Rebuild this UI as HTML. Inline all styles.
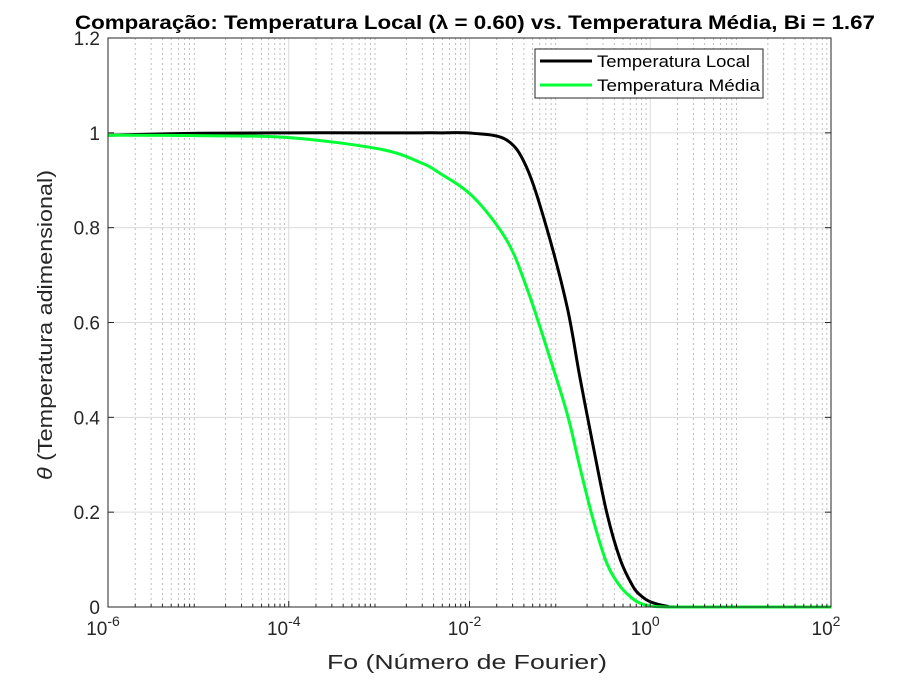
<!DOCTYPE html>
<html><head><meta charset="utf-8"><style>
body{margin:0;background:#fff}
svg{display:block;font-family:"Liberation Sans",Arial,sans-serif}
</style></head><body>
<svg id="c" width="903" height="680" xmlns="http://www.w3.org/2000/svg">
<rect width="903" height="680" fill="#fff"/>
<g id="grid"></g>
<g id="series"></g>
<rect x="108" y="38" width="723" height="569" fill="none" stroke="#262626" stroke-width="1"/>
<g id="ticks"></g>
<text x="475" y="29" text-anchor="middle" font-size="19" font-weight="bold" fill="#000" textLength="800" lengthAdjust="spacingAndGlyphs">Comparação: Temperatura Local (λ = 0.60) vs. Temperatura Média, Bi = 1.67</text>
<text x="467" y="669" text-anchor="middle" font-size="20" fill="#262626" textLength="280" lengthAdjust="spacingAndGlyphs">Fo (Número de Fourier)</text>
<text transform="translate(52,325) rotate(-90)" text-anchor="middle" font-size="20" fill="#262626" textLength="310" lengthAdjust="spacingAndGlyphs"><tspan font-style="italic">θ</tspan>  (Temperatura  adimensional)</text>
<g>
<rect x="535" y="49" width="228" height="49" fill="#fff" stroke="#262626" stroke-width="1"/>
<line x1="540" y1="61" x2="592" y2="61" stroke="#000" stroke-width="3"/>
<text x="597" y="67" font-size="17" fill="#000" textLength="153" lengthAdjust="spacingAndGlyphs">Temperatura Local</text>
<line x1="540" y1="85" x2="592" y2="85" stroke="#00ff33" stroke-width="3"/>
<text x="597" y="91" font-size="17" fill="#000" textLength="163" lengthAdjust="spacingAndGlyphs">Temperatura Média</text>
</g>
</svg>
<script>
const xTickExps = [-6, -4, -2, 0, 2];
const yTickVals = [0, 0.2, 0.4, 0.6, 0.8, 1, 1.2];
const yTickLabels = ["0", "0.2", "0.4", "0.6", "0.8", "1", "1.2"];
const logFo = [-6, -5, -4, -3, -2.55, -2.33, -1.96, -1.59, -1.37, -1.15, -0.92, -0.78, -0.63, -0.48, -0.33, -0.19, -0.11, 0, 0.18, 0.4, 2];
const thetaLocal = [0.995, 0.999, 1.0, 1.0, 1.0, 1.0, 0.999, 0.985, 0.928, 0.802, 0.633, 0.486, 0.338, 0.198, 0.099, 0.043, 0.025, 0.011, 0.002, 0.0, 0.0];
const thetaMedia = [0.995, 0.994, 0.99, 0.966, 0.938, 0.915, 0.865, 0.774, 0.675, 0.549, 0.408, 0.296, 0.183, 0.092, 0.043, 0.017, 0.008, 0.002, 0.0, 0.0, 0.0];

const L=108,R=831,T=38,B=607,NS="http://www.w3.org/2000/svg";
const xs=v=>L+(v+6)/8*(R-L);
const ys=v=>B-v/1.2*(B-T);
function mk(tag,attrs,parent){const e=document.createElementNS(NS,tag);for(const k in attrs)e.setAttribute(k,attrs[k]);parent.appendChild(e);return e;}
const grid=document.getElementById('grid'),ticks=document.getElementById('ticks'),series=document.getElementById('series');
for(let d=-6;d<2;d++){for(let m=2;m<10;m++){const x=xs(d+Math.log10(m));
const ln=mk('line',{x1:x,x2:x,y1:T,y2:B,stroke:'#b0b0b0','stroke-width':0.8,'stroke-dasharray':'2,3'},grid);


const t1=mk('line',{x1:x,x2:x,y1:B,y2:B-3,stroke:'#262626'},ticks);

}}
xTickExps.forEach(e=>{const x=xs(e);
const g=mk('line',{x1:x,x2:x,y1:T,y2:B,stroke:'#dcdcdc','stroke-width':1},grid);


const tk=mk('line',{x1:x,x2:x,y1:B,y2:B-6,stroke:'#262626'},ticks);


const t=mk('text',{x:x-5,y:B+28,'text-anchor':'middle','font-size':19,fill:'#262626'},ticks);


t.textContent='10';const s=mk('tspan',{dy:-9,'font-size':14},t);s.textContent=String(e);});
yTickVals.forEach((v,i)=>{const y=ys(v);
const g=mk('line',{x1:L,x2:R,y1:y,y2:y,stroke:'#dcdcdc','stroke-width':1},grid);


const tk=mk('line',{x1:L,x2:L+6,y1:y,y2:y,stroke:'#262626'},ticks);


const tr=mk('line',{x1:R,x2:R-6,y1:y,y2:y,stroke:'#262626'},ticks);


const t=mk('text',{x:L-8,y:y+7,'text-anchor':'end','font-size':19,fill:'#262626'},ticks);


t.textContent=yTickLabels[i];});
function pathFor(ys_){const p=logFo.map((v,i)=>[xs(v),ys(ys_[i])]);let d='M'+p[0][0]+','+p[0][1];
for(let i=0;i<p.length-1;i++){const p0=p[Math.max(0,i-1)],p1=p[i],p2=p[i+1],p3=p[Math.min(p.length-1,i+2)];
const c1=[p1[0]+(p2[0]-p0[0])/6,p1[1]+(p2[1]-p0[1])/6],c2=[p2[0]-(p3[0]-p1[0])/6,p2[1]-(p3[1]-p1[1])/6];
d+=` C${c1[0]},${c1[1]} ${c2[0]},${c2[1]} ${p2[0]},${p2[1]}`;}return d;}
const pm=mk('path',{d:pathFor(thetaMedia),fill:'none',stroke:'#00ff33','stroke-width':3,'stroke-linejoin':'round'},series);


const pl=mk('path',{d:pathFor(thetaLocal),fill:'none',stroke:'#000','stroke-width':3,'stroke-linejoin':'round'},series);


series.appendChild(pm);
</script>
</body></html>
